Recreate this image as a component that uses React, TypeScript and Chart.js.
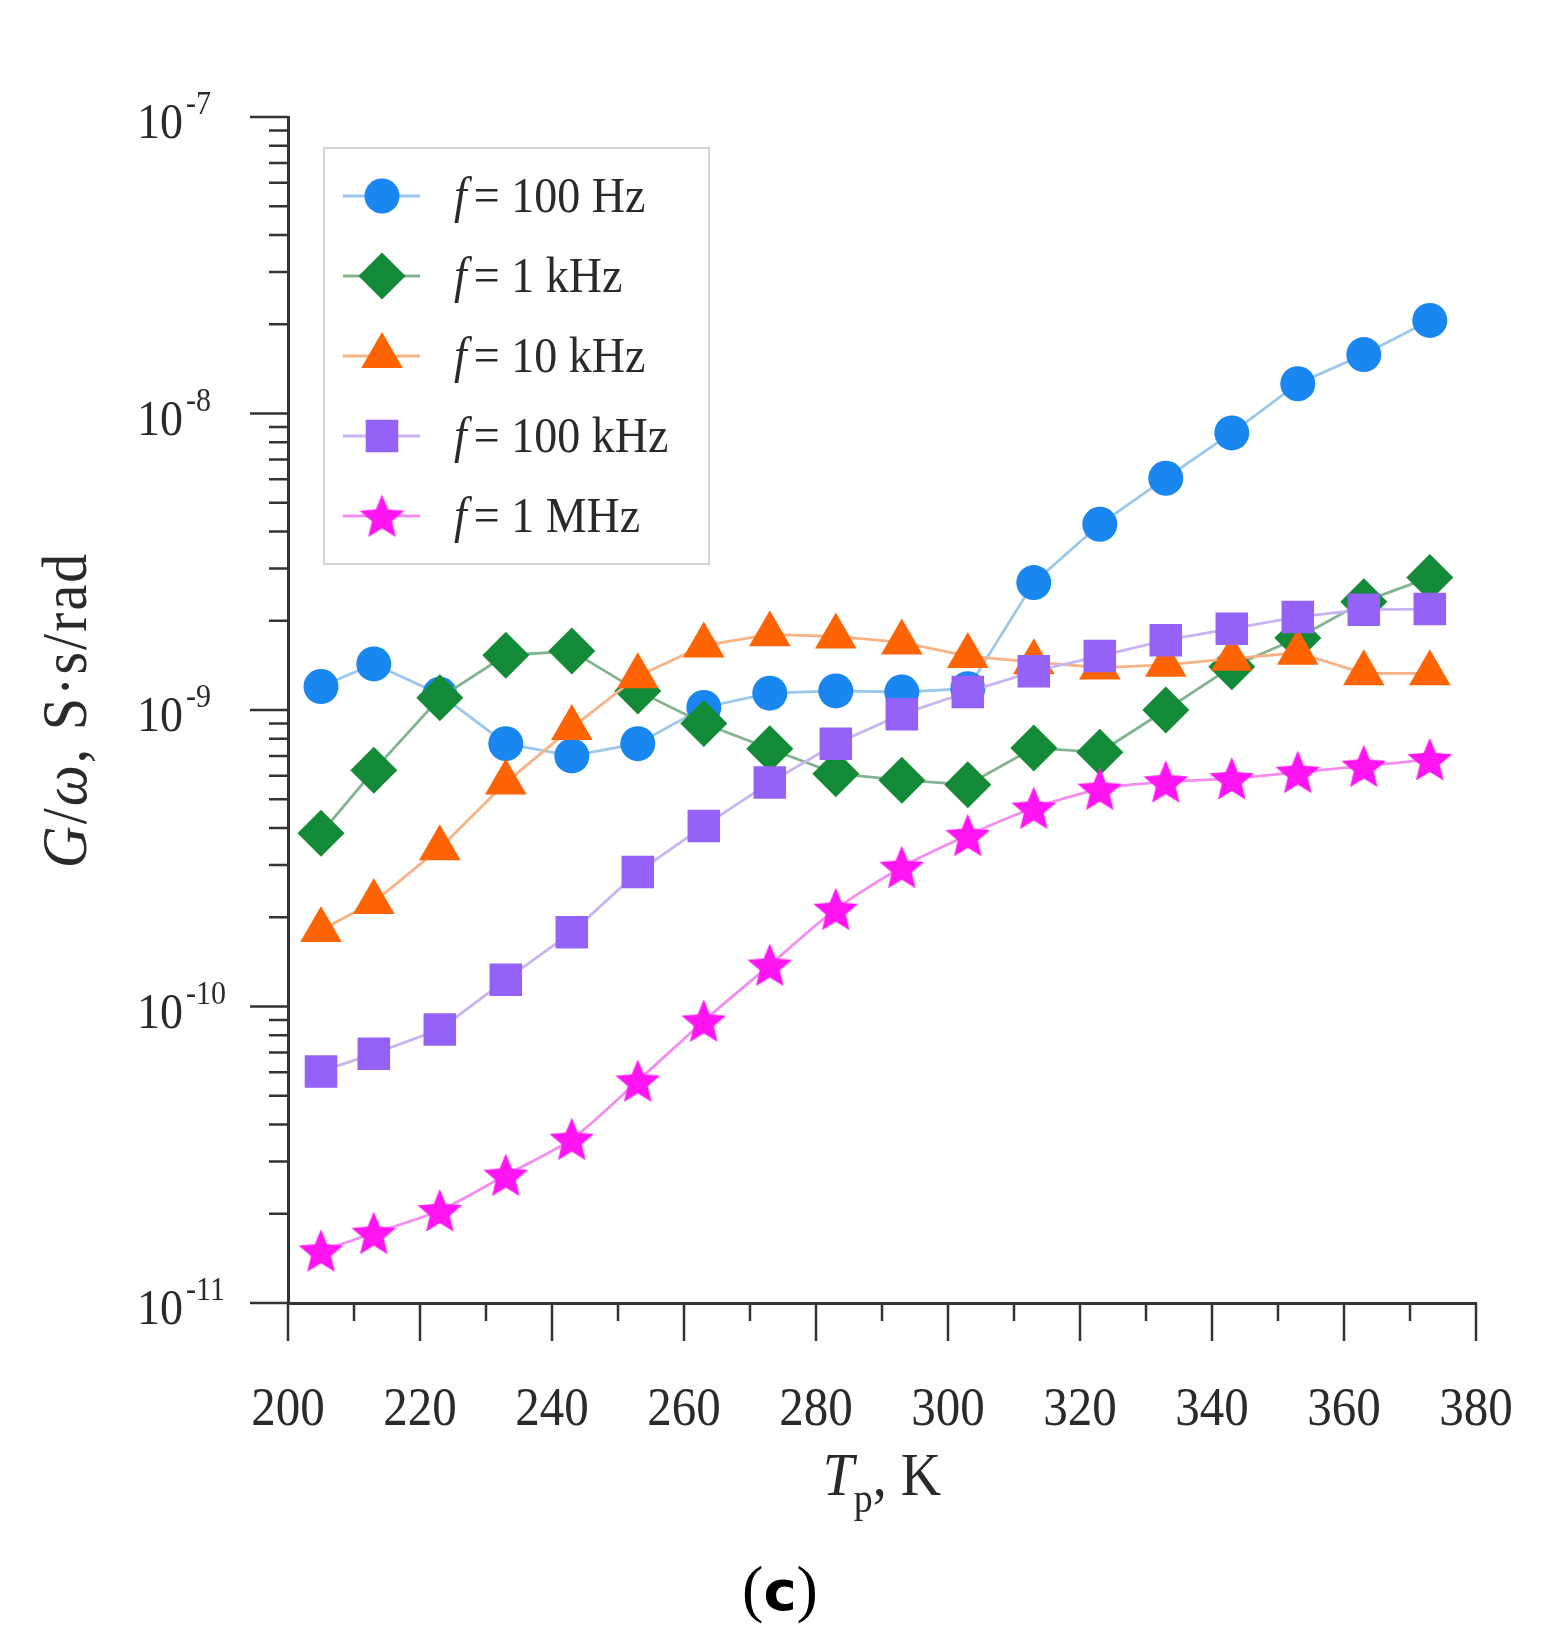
import { useEffect, useRef } from "react";
import { Chart, registerables } from "chart.js";
import { drawPoint } from "chart.js/helpers";

Chart.register(...registerables);

// measurement temperatures, K
const temperatures = [205, 213, 223, 233, 243, 253, 263, 273, 283, 293, 303, 313, 323, 333, 343, 353, 363, 373];

// G/omega, S*s/rad
const g100Hz = [1.2e-9, 1.43e-9, 1.13e-9, 7.7e-10, 7.0e-10, 7.7e-10, 1.02e-9, 1.14e-9, 1.16e-9, 1.15e-9, 1.18e-9, 2.69e-9, 4.23e-9, 6.05e-9, 8.6e-9, 1.26e-8, 1.58e-8, 2.06e-8];
const g1kHz = [3.84e-10, 6.26e-10, 1.1e-9, 1.53e-9, 1.58e-9, 1.16e-9, 9.0e-10, 7.4e-10, 6.1e-10, 5.8e-10, 5.6e-10, 7.45e-10, 7.2e-10, 1.0e-9, 1.4e-9, 1.75e-9, 2.32e-9, 2.8e-9];
const g10kHz = [1.81e-10, 2.25e-10, 3.42e-10, 5.69e-10, 8.7e-10, 1.3e-9, 1.65e-9, 1.8e-9, 1.77e-9, 1.69e-9, 1.52e-9, 1.45e-9, 1.39e-9, 1.42e-9, 1.49e-9, 1.56e-9, 1.33e-9, 1.33e-9];
const g100kHz = [6.04e-11, 6.93e-11, 8.37e-11, 1.23e-10, 1.78e-10, 2.84e-10, 4.06e-10, 5.69e-10, 7.69e-10, 9.68e-10, 1.15e-9, 1.35e-9, 1.52e-9, 1.72e-9, 1.88e-9, 2.06e-9, 2.18e-9, 2.19e-9];
const g1MHz = [1.5e-11, 1.72e-11, 2.05e-11, 2.7e-11, 3.57e-11, 5.61e-11, 8.94e-11, 1.38e-10, 2.13e-10, 2.95e-10, 3.78e-10, 4.67e-10, 5.41e-10, 5.73e-10, 5.87e-10, 6.17e-10, 6.47e-10, 6.81e-10];

const seriesLabels = ["100 Hz", "1 kHz", "10 kHz", "100 kHz", "1 MHz"];
const seriesValues = [g100Hz, g1kHz, g10kHz, g100kHz, g1MHz];

const xMajorTicks = [200, 220, 240, 260, 280, 300, 320, 340, 360, 380];
const xMinorTicks = [210, 230, 250, 270, 290, 310, 330, 350, 370];
const yDecades = [-11, -10, -9, -8, -7];
const yMinorFactors = [2, 3, 4, 5, 6, 7, 8, 9];

const markerColors = ["#1a86f0", "#138a38", "#ff6404", "#9462f6", "#ff14f2"];
const lineColors = ["#9cc6ea", "#83b491", "#f6b386", "#c8b3f3", "#f38ef0"];
const markerRadii = [17.5, 23.5, 24, 23, 23];

const SERIF = "'Liberation Serif', 'Times New Roman', serif";
const INK = "#2a2a2a";
const STRETCH = 1.1; // the source figure's lettering is a little taller than wide

function makeStar(color: string, outer: number, inner: number) {
  const size = Math.ceil(outer * 2 + 4);
  const c = document.createElement("canvas");
  c.width = size;
  c.height = size;
  const ctx = c.getContext("2d")!;
  ctx.fillStyle = color;
  ctx.beginPath();
  for (let i = 0; i < 10; i++) {
    const r = i % 2 === 0 ? outer : inner;
    const a = -Math.PI / 2 + (i * Math.PI) / 5;
    const px = size / 2 + r * Math.cos(a);
    const py = size / 2 + 2 + r * Math.sin(a);
    if (i === 0) ctx.moveTo(px, py);
    else ctx.lineTo(px, py);
  }
  ctx.closePath();
  ctx.fill();
  return c;
}

// draws text pieces one after another, each with its own font, baseline shift and gap before it
function drawRich(ctx: CanvasRenderingContext2D, parts: { t: string; font: string; dy?: number; gap?: number }[], x: number, y: number, align: "left" | "center") {
  let total = 0;
  parts.forEach((p) => {
    ctx.font = p.font;
    total += ctx.measureText(p.t).width + (p.gap || 0);
  });
  let cx = align === "center" ? x - total / 2 : x;
  ctx.save();
  ctx.translate(0, y);
  ctx.scale(1, STRETCH);
  parts.forEach((p) => {
    ctx.font = p.font;
    cx += p.gap || 0;
    ctx.fillText(p.t, cx, (p.dy || 0) / STRETCH);
    cx += ctx.measureText(p.t).width;
  });
  ctx.restore();
}

function drawTall(ctx: CanvasRenderingContext2D, t: string, x: number, y: number) {
  ctx.save();
  ctx.translate(x, y);
  ctx.scale(1, STRETCH);
  ctx.fillText(t, 0, 0);
  ctx.restore();
}

const decorPlugin = {
  id: "decor",
  afterDraw(chart: any) {
    const ctx: CanvasRenderingContext2D = chart.ctx;
    const xs = chart.scales.x;
    const ys = chart.scales.y;
    const { left, right, top, bottom } = chart.chartArea;
    ctx.save();

    // tick marks
    ctx.strokeStyle = "#333";
    ctx.lineWidth = 2.5;
    ctx.beginPath();
    xMajorTicks.forEach((v) => {
      const x = xs.getPixelForValue(v);
      ctx.moveTo(x, bottom);
      ctx.lineTo(x, bottom + 38);
    });
    xMinorTicks.forEach((v) => {
      const x = xs.getPixelForValue(v);
      ctx.moveTo(x, bottom);
      ctx.lineTo(x, bottom + 18);
    });
    yDecades.forEach((e) => {
      const y = ys.getPixelForValue(Math.pow(10, e));
      ctx.moveTo(left - 38, y);
      ctx.lineTo(left, y);
      if (e < -7) {
        yMinorFactors.forEach((m) => {
          const ym = ys.getPixelForValue(m * Math.pow(10, e));
          ctx.moveTo(left - 19, ym);
          ctx.lineTo(left, ym);
        });
      }
    });
    ctx.stroke();

    // tick labels
    ctx.fillStyle = INK;
    ctx.textBaseline = "alphabetic";
    ctx.textAlign = "center";
    ctx.font = `49px ${SERIF}`;
    xMajorTicks.forEach((v) => {
      drawTall(ctx, String(v), xs.getPixelForValue(v), bottom + 122);
    });
    yDecades.forEach((e) => {
      const y = ys.getPixelForValue(Math.pow(10, e));
      ctx.textAlign = "right";
      ctx.font = `46px ${SERIF}`;
      drawTall(ctx, "10", left - 105, y + 21);
      ctx.textAlign = "left";
      ctx.font = `30px ${SERIF}`;
      drawTall(ctx, String(e), left - 102, y - 3);
    });

    // axis titles
    ctx.textAlign = "left";
    drawRich(
      ctx,
      [
        { t: "T", font: `italic 56px ${SERIF}` },
        { t: "p", font: `38px ${SERIF}`, dy: 17 },
        { t: ", K", font: `56px ${SERIF}` },
      ],
      (left + right) / 2,
      bottom + 192,
      "center"
    );
    ctx.save();
    ctx.translate(86, (top + bottom) / 2);
    ctx.rotate(-Math.PI / 2);
    (ctx as any).letterSpacing = "2px";
    drawRich(
      ctx,
      [
        { t: "G", font: `italic 58px ${SERIF}` },
        { t: "/", font: `58px ${SERIF}` },
        { t: "ω", font: `italic 58px ${SERIF}` },
        { t: ", S·s/rad", font: `58px ${SERIF}` },
      ],
      0,
      0,
      "center"
    );
    ctx.restore();

    // legend
    const bx = left + 36;
    const by = top + 31;
    ctx.strokeStyle = "#d4d4d4";
    ctx.lineWidth = 2;
    ctx.strokeRect(bx, by, 385, 416);
    chart.data.datasets.forEach((ds: any, i: number) => {
      const y = by + 48 + i * 80;
      ctx.strokeStyle = lineColors[i];
      ctx.lineWidth = 3;
      ctx.beginPath();
      ctx.moveTo(bx + 19, y);
      ctx.lineTo(bx + 96, y);
      ctx.stroke();
      ctx.fillStyle = markerColors[i];
      ctx.strokeStyle = markerColors[i];
      ctx.beginPath();
      drawPoint(ctx, { pointStyle: ds.pointStyle, radius: markerRadii[i], rotation: 0, borderWidth: 0 } as any, bx + 58, y);
      ctx.fillStyle = INK;
      drawRich(
        ctx,
        [
          { t: "f", font: `italic 46px ${SERIF}` },
          { t: "= " + seriesLabels[i], font: `46px ${SERIF}`, gap: 7 },
        ],
        bx + 130,
        y + 16,
        "left"
      );
    });
    ctx.restore();
  },
};

export default function App() {
  const ref = useRef<HTMLCanvasElement>(null);

  useEffect(() => {
    if (!ref.current) return;
    const star = makeStar(markerColors[4], 23.5, 10.5);
    const styles: any[] = ["circle", "rectRot", "triangle", "rect", star];

    const chart = new Chart(ref.current, {
      type: "line",
      data: {
        datasets: seriesValues.map((vals, i) => ({
          label: "f = " + seriesLabels[i],
          data: temperatures.map((t, j) => ({ x: t, y: vals[j] })),
          borderColor: lineColors[i],
          borderWidth: 2.8,
          pointStyle: styles[i],
          pointRadius: markerRadii[i],
          pointHoverRadius: markerRadii[i],
          pointBackgroundColor: markerColors[i],
          pointBorderColor: markerColors[i],
          pointBorderWidth: 0,
          tension: i === 4 ? 0.25 : 0,
          order: 5 - i,
          clip: false as any,
        })),
      },
      options: {
        animation: false,
        responsive: true,
        maintainAspectRatio: false,
        layout: { padding: { left: 0, top: 117, right: 84, bottom: 0 } },
        plugins: { legend: { display: false }, tooltip: { enabled: false } },
        scales: {
          x: {
            type: "linear",
            min: 200,
            max: 380,
            grid: { display: false },
            border: { display: true, color: "#333", width: 3 },
            ticks: { display: false },
            afterFit: (s: any) => {
              s.height = 237;
            },
          },
          y: {
            type: "logarithmic",
            min: 1e-11,
            max: 1e-7,
            grid: { display: false },
            border: { display: true, color: "#333", width: 3 },
            ticks: { display: false },
            afterBuildTicks: (s: any) => {
              s.ticks = yDecades.map((e) => ({ value: Math.pow(10, e) }));
            },
            afterFit: (s: any) => {
              s.width = 288;
            },
          },
        },
      },
      plugins: [decorPlugin],
    });
    return () => {
      chart.destroy();
    };
  }, []);

  return (
    <div style={{ position: "absolute", left: 0, top: 0, width: 1560, height: 1652, background: "#fff" }}>
      <div style={{ position: "absolute", left: 0, top: 0, width: 1560, height: 1540 }}>
        <canvas ref={ref} />
      </div>
      <div
        style={{
          position: "absolute",
          left: 0,
          top: 1552,
          width: 1560,
          textAlign: "center",
          fontFamily: SERIF,
          fontSize: 64,
          lineHeight: "74px",
          color: "#000",
        }}
      >
        (<b style={{ fontFamily: "'DejaVu Sans', sans-serif", fontSize: 56 }}>c</b>)
      </div>
    </div>
  );
}
